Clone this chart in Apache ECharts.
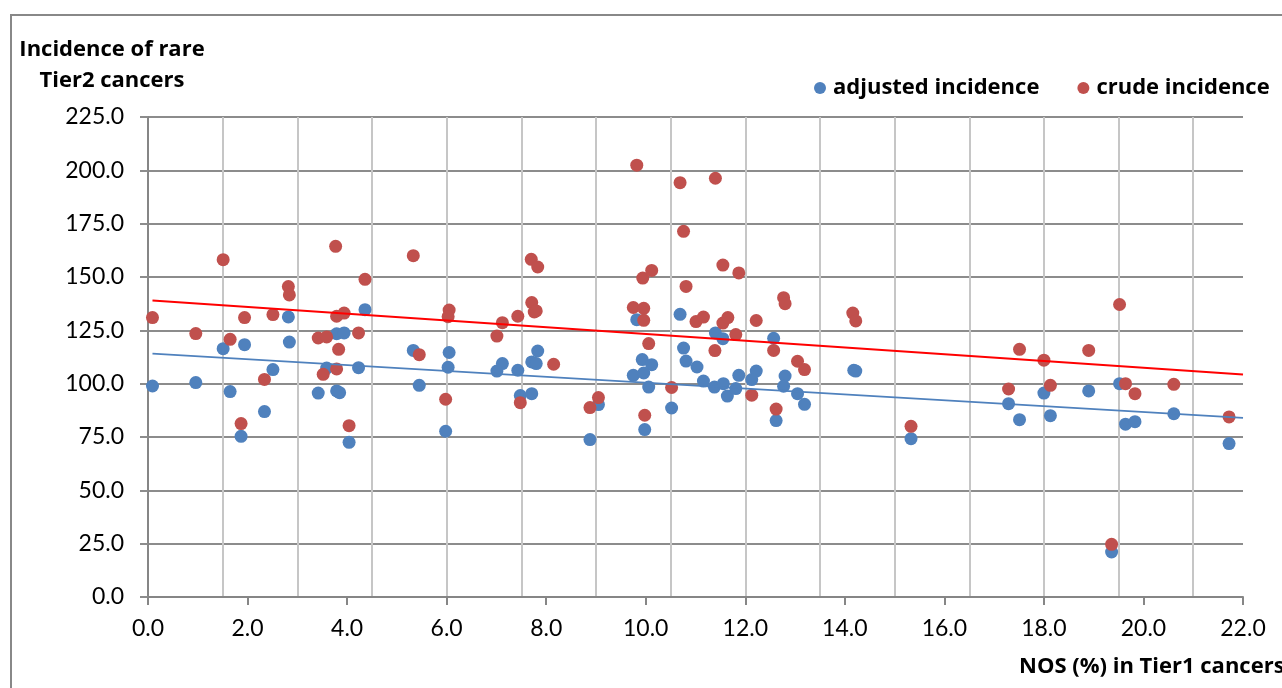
<!DOCTYPE html>
<html>
<head>
<meta charset="utf-8">
<script src="https://cdn.jsdelivr.net/npm/echarts@6/dist/echarts.min.js"></script>
<style>html,body{margin:0;padding:0;background:#fff;}#c{width:1282px;height:688px;}</style>
</head>
<body>
<div id="c"></div>
<script>
// ---- data ----
var adjustedX = [0.09,0.96,1.51,1.65,1.94,1.87,2.34,2.51,2.82,2.84,3.42,3.59,3.79,3.94,3.79,3.85,4.23,4.36,4.04,5.33,5.45,6.05,6.03,5.98,7.12,7.01,7.43,7.48,7.71,7.83,7.71,7.80,8.88,9.05,9.82,9.93,10.12,9.75,9.96,10.06,9.98,10.52,10.69,10.76,10.81,11.03,11.16,11.40,11.55,11.38,11.56,11.64,11.81,11.87,12.22,12.13,12.57,12.80,12.77,13.05,13.19,12.62,14.18,14.22,15.33,17.29,17.51,18.00,18.13,18.90,19.52,19.64,19.83,20.61,21.72,19.36];
var adjustedY = [98.9,100.5,116.4,96.3,118.3,75.3,86.9,106.6,131.3,119.5,95.6,107.3,123.4,123.8,96.6,95.8,107.5,134.7,72.5,115.6,99.2,114.6,107.7,77.7,109.4,105.9,106.3,94.4,95.3,115.3,110.2,109.4,73.8,90.2,130.0,111.3,108.9,103.9,105.0,98.4,78.5,88.6,132.5,116.7,110.6,107.8,101.2,123.8,121.1,98.4,100.0,94.2,97.7,103.9,105.9,101.9,121.3,103.6,98.8,95.3,90.3,82.7,106.3,105.9,74.2,90.6,83.1,95.6,85.0,96.6,100.0,81.0,82.2,85.9,71.9,21.1];
var crudeX = [0.09,0.96,1.51,1.65,1.94,1.87,2.34,2.51,2.82,2.84,3.77,3.42,3.59,3.79,3.94,3.83,3.52,3.79,4.23,4.36,4.04,5.33,5.45,6.05,6.03,5.98,7.12,7.01,7.43,7.48,7.70,7.83,7.71,7.76,7.80,8.15,8.88,9.05,9.82,9.75,9.96,9.96,9.94,10.12,10.06,9.98,10.52,10.69,10.76,10.81,11.40,11.01,11.16,11.55,11.87,11.55,11.65,11.81,11.39,12.22,12.13,12.77,12.80,12.57,13.05,13.19,12.62,14.16,14.22,15.33,17.51,17.29,18.00,18.13,18.90,19.52,19.64,19.83,20.61,21.72,19.36];
var crudeY = [131.0,123.5,158.1,120.8,131.0,81.3,102.0,132.4,145.5,141.6,164.4,121.4,121.9,131.6,133.1,116.1,104.4,106.9,123.8,148.9,80.3,160.0,113.6,134.5,131.4,92.7,128.6,122.3,131.6,91.1,158.3,154.7,138.0,133.6,134.1,109.1,88.8,93.5,202.4,135.7,135.3,129.7,149.5,153.1,118.8,85.2,98.2,194.2,171.4,145.6,196.3,129.1,131.2,155.6,151.9,128.4,131.0,123.0,115.5,129.6,94.6,140.3,137.5,115.6,110.5,106.6,88.1,133.1,129.4,80.0,116.1,97.5,111.0,99.2,115.6,137.1,100.0,95.3,99.7,84.4,24.7];
var trendAdjustedX = [0.09, 22];
var trendAdjustedY = [114.1, 84.0];
var trendCrudeX = [0.09, 22];
var trendCrudeY = [139.0, 104.3];
var seriesNames = ['adjusted incidence', 'crude incidence'];
var yAxisTitle = ['Incidence of rare', 'Tier2 cancers'];
var xAxisTitle = 'NOS (%) in Tier1 cancers';

function zip(a, b) { return a.map(function (v, i) { return [v, b[i]]; }); }

var FONT = 'Lato, "Open Sans", sans-serif';
var BOLD = '"Open Sans", Lato, sans-serif';
var chart = echarts.init(document.getElementById('c'), null, {renderer: 'canvas'});
chart.setOption({
  animation: false,
  backgroundColor: '#ffffff',
  grid: {left: 148, right: 39, top: 117, bottom: 91, containLabel: false},
  legend: {
    data: seriesNames,
    left: 809, top: 72,
    icon: 'circle', itemWidth: 12, itemHeight: 12, itemGap: 38,
    textStyle: {fontFamily: BOLD, fontSize: 22, fontWeight: 'bold', color: '#000', padding: [0,0,0,2]}
  },
  xAxis: [{
    type: 'value', min: 0, max: 22, interval: 2,
    axisLine: {show: true, onZero: false, lineStyle: {color: '#868686', width: 2}},
    axisTick: {show: true, inside: false, length: 8, lineStyle: {color: '#868686', width: 2}},
    axisLabel: {margin: 20, fontFamily: FONT, fontSize: 23, color: '#000',
      formatter: function (v) { return v.toFixed(1); }},
    splitLine: {show: false}
  }, {
    type: 'value', min: 0, max: 22, interval: 1.5, position: 'bottom',
    axisLine: {show: false}, axisTick: {show: false}, axisLabel: {show: false},
    splitLine: {show: true, showMinLine: false, showMaxLine: false, lineStyle: {color: '#c6c6c6', width: 2}}
  }],
  yAxis: {
    type: 'value', min: 0, max: 225, interval: 25,
    axisLine: {show: true, lineStyle: {color: '#868686', width: 2}},
    axisTick: {show: true, inside: false, length: 8, lineStyle: {color: '#8c8c8c', width: 2}},
    axisLabel: {margin: 24, fontFamily: FONT, fontSize: 23, color: '#000',
      formatter: function (v) { return v.toFixed(1); }},
    splitLine: {show: true, lineStyle: {color: '#8c8c8c', width: 2}}
  },
  series: [{
    name: seriesNames[0], type: 'scatter', xAxisIndex: 0,
    symbol: 'circle', symbolSize: 13, z: 2,
    itemStyle: {color: '#4f81bd', opacity: 1},
    data: zip(adjustedX, adjustedY)
  }, {
    name: seriesNames[1], type: 'scatter', xAxisIndex: 0,
    symbol: 'circle', symbolSize: 13, z: 3,
    itemStyle: {color: '#c0504d', opacity: 1},
    data: zip(crudeX, crudeY)
  }, {
    name: 'trend adjusted', type: 'line', xAxisIndex: 0, showSymbol: false, symbol: 'none', z: 4,
    lineStyle: {color: '#4f81bd', width: 1.8}, silent: true,
    data: zip(trendAdjustedX, trendAdjustedY)
  }, {
    name: 'trend crude', type: 'line', xAxisIndex: 0, showSymbol: false, symbol: 'none', z: 4,
    lineStyle: {color: '#ff0000', width: 2}, silent: true,
    data: zip(trendCrudeX, trendCrudeY)
  }],
  graphic: [{
    type: 'rect', silent: true, z: 0,
    shape: {x: 11, y: 15, width: 1400, height: 800},
    style: {fill: null, stroke: '#888888', lineWidth: 2}
  }, {
    type: 'text', silent: true,
    style: {text: yAxisTitle[0], x: 112, y: 50, align: 'center', verticalAlign: 'middle',
      font: 'bold 22px ' + BOLD, fill: '#000'}
  }, {
    type: 'text', silent: true,
    style: {text: yAxisTitle[1], x: 112, y: 81, align: 'center', verticalAlign: 'middle',
      font: 'bold 22px ' + BOLD, fill: '#000'}
  }, {
    type: 'text', silent: true,
    style: {text: xAxisTitle, x: 1019, y: 667, align: 'left', verticalAlign: 'middle',
      font: 'bold 22px ' + BOLD, fill: '#000'}
  }]
});
</script>
</body>
</html>
